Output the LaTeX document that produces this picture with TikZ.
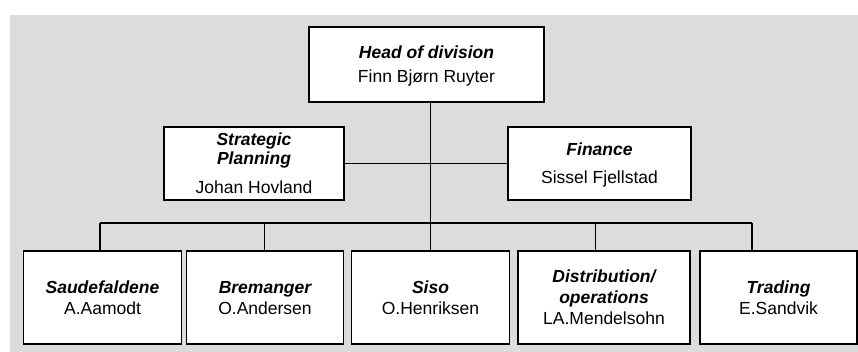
\documentclass[tikz,border=0pt]{standalone}
\usepackage{fontspec}
\setmainfont{Liberation Sans}
\definecolor{panel}{HTML}{DCDCDC}
\begin{document}
\begin{tikzpicture}[x=1pt,y=-1pt]
        \tikzstyle{unit}=[rectangle,draw=black,line width=1.3pt,fill=white,align=center,inner sep=0pt,text depth=-4pt,font=\fontsize{17.5}{21}\selectfont]
        \tikzstyle{edge}=[draw,line width=1.1pt]
        \useasboundingbox (0,0) rectangle (858,352);
        \fill[panel] (10,15) rectangle (858,352);
       \begin{scope}
         \node [unit,minimum width=235pt,minimum height=75pt] (head) at (426.5,64.5) {{\bfseries\itshape Head of division}\\[3pt]Finn Bjørn Ruyter};
         \node [unit,minimum width=180pt,minimum height=73pt] (strat) at (254,163.5) {{\bfseries\itshape Strategic}\\[-2pt]{\bfseries\itshape Planning}\\[8pt]Johan Hovland};
         \node [unit,minimum width=183pt,minimum height=73pt] (fin) at (599.5,163.5) {{\bfseries\itshape Finance}\\[7pt]Sissel Fjellstad};

         \node [unit,minimum width=158pt,minimum height=93pt] (saud) at (102.5,297.5) {{\bfseries\itshape Saudefaldene}\\A.Aamodt};
         \node [unit,minimum width=157pt,minimum height=93pt] (brem) at (265,297.5) {{\bfseries\itshape Bremanger}\\O.Andersen};
         \node [unit,minimum width=158pt,minimum height=93pt] (siso) at (430.5,297.5) {{\bfseries\itshape Siso}\\O.Henriksen};
         \node [unit,minimum width=172pt,minimum height=93pt] (dist) at (604,297.5) {{\bfseries\itshape Distribution/}\\{\bfseries\itshape operations}\\LA.Mendelsohn};
         \node [unit,minimum width=157pt,minimum height=93pt] (trad) at (778.5,297.5) {{\bfseries\itshape Trading}\\E.Sandvik};

         \coordinate (b1) at (100,223);
         \coordinate (b2) at (264.5,223);
         \coordinate (b3) at (430.5,223);
         \coordinate (b4) at (595.5,223);
         \coordinate (b5) at (752,223);

         \path[edge] (head.south -| b3) -- (b3);
         \path[edge] (strat.east) -- (fin.west);
         \path[edge] (b1) -- (b5);
         \path[edge] (b1) -- (b1 |- saud.north);
         \path[edge] (b2) -- (b2 |- brem.north);
         \path[edge] (b3) -- (b3 |- siso.north);
         \path[edge] (b4) -- (b4 |- dist.north);
         \path[edge] (b5) -- (b5 |- trad.north);
        \end{scope}
      \end{tikzpicture}
\end{document}
